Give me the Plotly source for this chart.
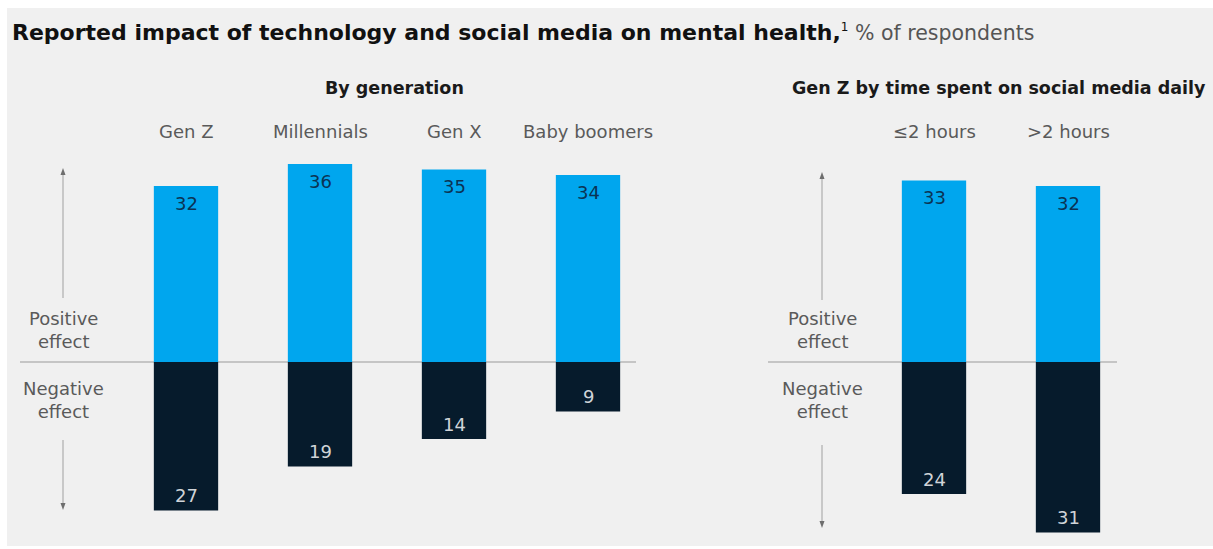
import plotly.graph_objects as go

# Survey results, % of respondents
generations = ["Gen Z", "Millennials", "Gen X", "Baby boomers"]
gen_positive = [32, 36, 35, 34]
gen_negative = [27, 19, 14, 9]

time_groups = ["≤2 hours", ">2 hours"]
time_positive = [33, 32]
time_negative = [24, 31]

BLUE = "#00a6ee"
NAVY = "#061b2c"
GRAY_TXT = "#5a5a5a"
FONT = "DejaVu Sans"

W, H = 1213, 549


def px(x):
    return x / W


def py(y):
    return 1 - y / H


fig = go.Figure()
annotations = []
shapes = []

for cats, pos, neg, xa in [
    (generations, gen_positive, gen_negative, "x"),
    (time_groups, time_positive, time_negative, "x2"),
]:
    fig.add_trace(go.Bar(
        x=cats, y=pos, xaxis=xa, yaxis="y",
        marker=dict(color=BLUE, line=dict(width=0)),
        hoverinfo="skip", showlegend=False,
    ))
    fig.add_trace(go.Bar(
        x=cats, y=[-v for v in neg], xaxis=xa, yaxis="y",
        marker=dict(color=NAVY, line=dict(width=0)),
        hoverinfo="skip", showlegend=False,
    ))
    # value labels just inside the end of each bar
    for c, v in zip(cats, pos):
        annotations.append(dict(xref=xa, yref="y", x=c, y=v, yshift=-17,
                                text=str(v), showarrow=False,
                                font=dict(family=FONT, size=18, color="#0b3354"),
                                xanchor="center", yanchor="middle"))
    for c, v in zip(cats, neg):
        annotations.append(dict(xref=xa, yref="y", x=c, y=-v, yshift=15,
                                text=str(v), showarrow=False,
                                font=dict(family=FONT, size=18, color="#d0d4d8"),
                                xanchor="center", yanchor="middle"))

# vertical scale: 5.5 px per point, zero line at 362 px from the top
PPU = 5.5
ZERO = 362
y_range = [-(H - ZERO) / PPU, ZERO / PPU]

# light panel behind everything
shapes.append(dict(type="rect", xref="paper", yref="paper",
                   x0=px(7), x1=1, y0=py(546), y1=py(8),
                   fillcolor="#f0f0f0", line=dict(width=0), layer="below"))

# zero baselines
for x0, x1 in [(20, 636), (768, 1117)]:
    shapes.append(dict(type="line", xref="paper", yref="y",
                       x0=px(x0), x1=px(x1), y0=0, y1=0,
                       line=dict(color="#9a9a9a", width=1), layer="below"))


def arrow(xc, y_tail, y_head):
    """Thin vertical line with a small triangular head, in page pixels."""
    direction = 1 if y_head > y_tail else -1
    base = y_head - direction * 7
    shapes.append(dict(type="line", xref="paper", yref="paper",
                       x0=px(xc), x1=px(xc), y0=py(y_tail), y1=py(base),
                       line=dict(color="#a0a0a0", width=1)))
    path = (f"M {px(xc - 2.5)},{py(base)} L {px(xc + 2.5)},{py(base)} "
            f"L {px(xc)},{py(y_head)} Z")
    shapes.append(dict(type="path", xref="paper", yref="paper", path=path,
                       fillcolor="#6e6e6e", line=dict(width=0)))


# direction arrows and effect labels beside each panel
for xc, up_head, up_tail, dn_tail, dn_head in [
    (63, 168, 298, 440, 510),
    (822, 172, 300, 445, 528),
]:
    arrow(xc, up_tail, up_head)
    arrow(xc, dn_tail, dn_head)
    annotations.append(dict(xref="paper", yref="paper", x=px(xc), y=py(330),
                            text="Positive<br>effect", showarrow=False,
                            font=dict(family=FONT, size=18, color=GRAY_TXT),
                            xanchor="center", yanchor="middle", align="center"))
    annotations.append(dict(xref="paper", yref="paper", x=px(xc), y=py(400),
                            text="Negative<br>effect", showarrow=False,
                            font=dict(family=FONT, size=18, color=GRAY_TXT),
                            xanchor="center", yanchor="middle", align="center"))

# category headings above the bars
for cats, xa in [(generations, "x"), (time_groups, "x2")]:
    for c in cats:
        annotations.append(dict(xref=xa, yref="paper", x=c, y=py(131),
                                text=c, showarrow=False,
                                font=dict(family=FONT, size=18, color=GRAY_TXT),
                                xanchor="center", yanchor="middle"))

# panel subtitles
annotations.append(dict(xref="paper", yref="paper", x=px(394), y=py(88),
                        text="<b>By generation</b>", showarrow=False,
                        font=dict(family=FONT, size=17.5, color="#1a1a1a"),
                        xanchor="center", yanchor="middle"))
annotations.append(dict(xref="paper", yref="paper", x=px(1208), y=py(88),
                        text="<b>Gen Z by time spent on social media daily</b>",
                        showarrow=False,
                        font=dict(family=FONT, size=17.5, color="#1a1a1a"),
                        xanchor="right", yanchor="middle"))

# chart title
annotations.append(dict(xref="paper", yref="paper", x=px(10), y=py(33),
                        text="<b>Reported impact of technology and social media on mental health,</b>"
                             "<sup><span style='font-size:12px'>1</span></sup>"
                             "<span style='color:#555555;font-size:20.5px'> % of respondents</span>",
                        showarrow=False,
                        font=dict(family=FONT, size=22, color="#111111"),
                        xanchor="left", yanchor="middle"))

fig.update_layout(
    width=W, height=H,
    margin=dict(l=0, r=0, t=0, b=0),
    paper_bgcolor="white", plot_bgcolor="rgba(0,0,0,0)",
    barmode="relative", bargap=0.52,
    xaxis=dict(domain=[px(119), px(655)], type="category", visible=False,
               fixedrange=True, anchor="y"),
    xaxis2=dict(domain=[px(867), px(1135)], type="category", visible=False,
                fixedrange=True, anchor="y"),
    yaxis=dict(range=y_range, visible=False, fixedrange=True, zeroline=False,
               showgrid=False),
    annotations=annotations, shapes=shapes,
)

fig.write_html("out.html", config={"displayModeBar": False})
